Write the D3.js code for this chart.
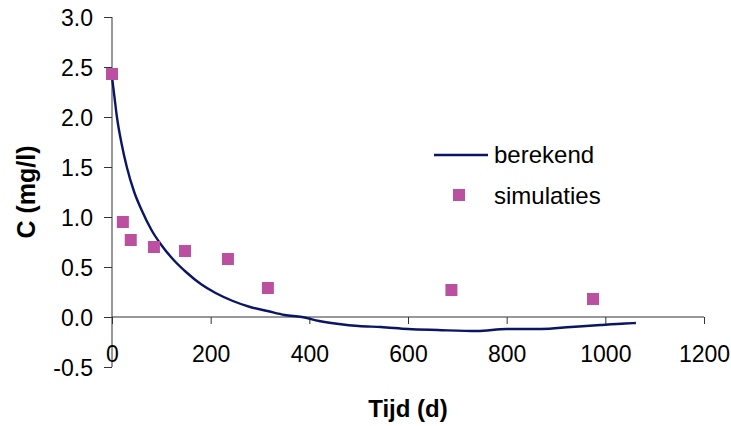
<!DOCTYPE html>
<html>
<head>
<meta charset="utf-8">
<script src="https://cdn.jsdelivr.net/npm/d3@7"></script>
<style>
  body { margin: 0; background: #fff; }
  text { font-family: "Liberation Sans", Arial, sans-serif; fill: #000; }
</style>
</head>
<body>
<svg id="chart" width="731" height="426"></svg>
<script>
// calculated curve (berekend): time in days, concentration in mg/l
const curveT = [0, 5, 10, 20, 30, 45, 60, 80, 100, 125, 150, 180, 210, 245, 280, 315, 350, 385, 420, 460, 500, 545, 600, 660, 740, 800, 870, 930, 990, 1040, 1062];
const curveC = [2.40, 2.20, 2.00, 1.72, 1.50, 1.25, 1.07, 0.87, 0.72, 0.57, 0.45, 0.33, 0.24, 0.16, 0.10, 0.06, 0.02, 0.00, -0.04, -0.07, -0.09, -0.10, -0.12, -0.13, -0.14, -0.12, -0.12, -0.10, -0.08, -0.065, -0.06];

// simulation points (simulaties)
const simT = [0, 22, 38, 85, 148, 235, 316, 688, 975];
const simC = [2.43, 0.95, 0.77, 0.70, 0.66, 0.58, 0.29, 0.27, 0.18];

const xTicks = [0, 200, 400, 600, 800, 1000, 1200];
const yTicks = [-0.5, 0, 0.5, 1.0, 1.5, 2.0, 2.5, 3.0];
const legendLabels = ["berekend", "simulaties"];

const svg = d3.select("#chart");

// scales
const x = d3.scaleLinear().domain([0, 1200]).range([112, 704]);
const y = d3.scaleLinear().domain([-0.5, 3.0]).range([367, 17]);

const lineColor = "#0b1566";
const pointColor = "#bb4fa0";
const axisColor = "#333";

// plain hyphen instead of the unicode minus
const fmtY = d => d3.format(".1f")(d).replace("\u2212", "-");

// y axis (left, with ticks to the left)
const yAxis = svg.append("g")
  .attr("transform", "translate(" + x(0) + ",0)")
  .call(d3.axisLeft(y).tickValues(yTicks).tickSize(8).tickFormat(fmtY));
yAxis.select(".domain").attr("stroke", axisColor).attr("d", "M0," + y(3.0) + "V" + y(-0.5));
yAxis.selectAll(".tick line").attr("stroke", axisColor);
yAxis.selectAll(".tick text")
  .attr("x", -19)
  .attr("dy", "0.36em")
  .style("font-size", "23px");

// x axis drawn along C = 0
const xAxis = svg.append("g")
  .attr("transform", "translate(0," + y(0) + ")")
  .call(d3.axisBottom(x).tickValues(xTicks).tickSize(7).tickFormat(d3.format("d")));
xAxis.select(".domain").attr("stroke", axisColor).attr("d", "M" + x(0) + ",0H" + x(1200));
xAxis.selectAll(".tick line").attr("stroke", axisColor);
xAxis.selectAll(".tick text")
  .attr("y", 45)
  .attr("dy", "0")
  .style("font-size", "23px");

// axis titles
svg.append("text")
  .attr("x", 408).attr("y", 417)
  .attr("text-anchor", "middle")
  .style("font-size", "24px").style("font-weight", "bold")
  .text("Tijd (d)");

svg.append("text")
  .attr("transform", "translate(35,192) rotate(-90)")
  .attr("text-anchor", "middle")
  .style("font-size", "25px").style("font-weight", "bold")
  .text("C (mg/l)");

// calculated line
const curveData = curveT.map((t, i) => ({ t: t, c: curveC[i] }));
const line = d3.line()
  .x(d => x(d.t))
  .y(d => y(d.c))
  .curve(d3.curveMonotoneX);

svg.append("path")
  .datum(curveData)
  .attr("d", line)
  .attr("fill", "none")
  .attr("stroke", lineColor)
  .attr("stroke-width", 2.4);

// simulation squares
const simData = simT.map((t, i) => ({ t: t, c: simC[i] }));
const sq = 12;
svg.selectAll(".sim")
  .data(simData)
  .enter()
  .append("rect")
  .attr("class", "sim")
  .attr("x", d => x(d.t) - sq / 2)
  .attr("y", d => y(d.c) - sq / 2)
  .attr("width", sq)
  .attr("height", sq)
  .attr("fill", pointColor);

// legend
const legend = svg.append("g");
legend.append("line")
  .attr("x1", 434).attr("x2", 488)
  .attr("y1", 155).attr("y2", 155)
  .attr("stroke", lineColor).attr("stroke-width", 2.4);
legend.append("rect")
  .attr("x", 453).attr("y", 189)
  .attr("width", sq).attr("height", sq)
  .attr("fill", pointColor);
legend.selectAll(".lab")
  .data(legendLabels)
  .enter()
  .append("text")
  .attr("class", "lab")
  .attr("x", 494)
  .attr("y", (d, i) => 155 + i * 41)
  .attr("dy", "0.35em")
  .style("font-size", "24px")
  .text(d => d);
</script>
</body>
</html>
